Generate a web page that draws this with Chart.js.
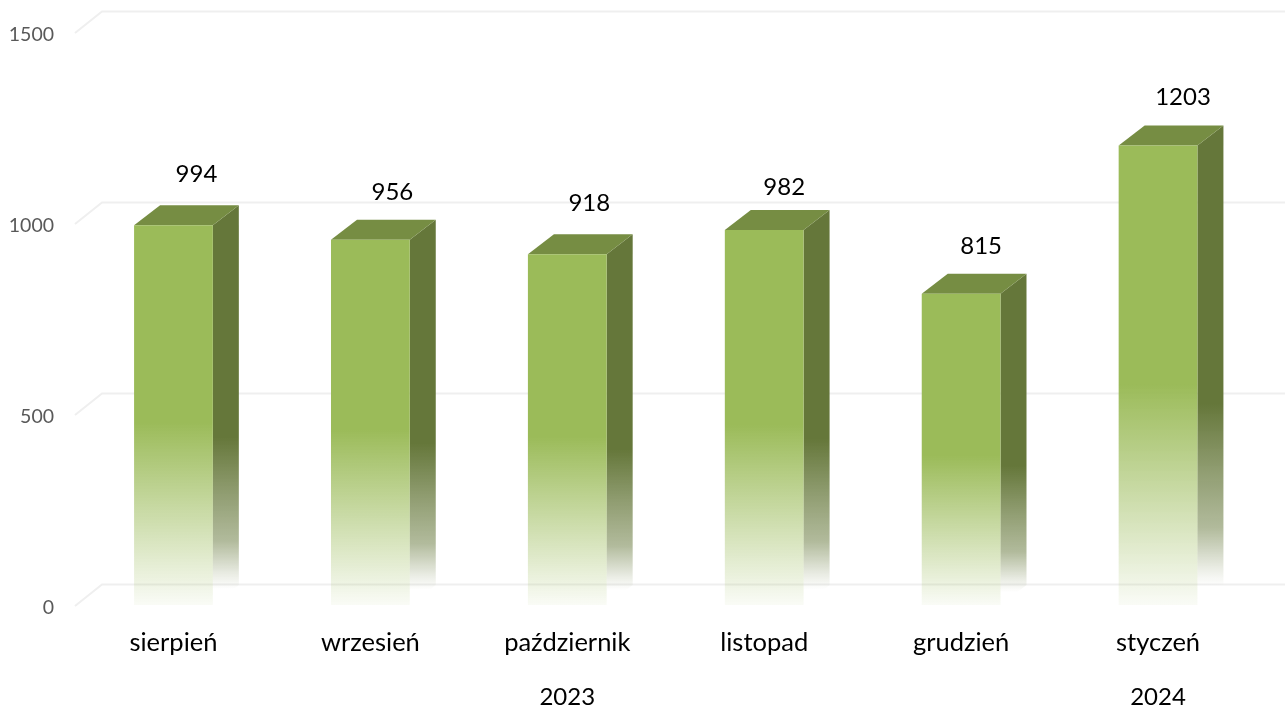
<!DOCTYPE html>
<html lang="pl"><head><meta charset="utf-8">
<style>html,body{margin:0;padding:0;background:#fff}#w{width:1285px;height:707px}</style>
<script src="https://cdn.jsdelivr.net/npm/chart.js@4/dist/chart.umd.min.js"></script>
</head><body><div id="w"><canvas id="c"></canvas></div>
<script>
const categories = ['sierpień','wrzesień','październik','listopad','grudzień','styczeń'];
const years = ['','','2023','','','2024'];
const values = [994,956,918,982,815,1203];
const yTicks = [0,500,1000,1500];

const DX = 26, DY = -20, FADE = 0.52;
const FONT = 'Lato, Carlito, sans-serif';
const labelNudge = [[23,-51],[22,-48],[22,-51],[20,-43],[20,-47],[25,-48]];

function fade(ctx, y0, y1, rgb, a1){
  const g = ctx.createLinearGradient(0,y0,0,y1);
  g.addColorStop(0,`rgba(${rgb},1)`);
  g.addColorStop(FADE,`rgba(${rgb},1)`);
  g.addColorStop(1,`rgba(${rgb},${a1})`);
  return g;
}
function sideFade(ctx, y0, y1, rgb){
  const g = ctx.createLinearGradient(0,y0,0,y1);
  [[0,1],[0.58,1],[0.72,0.72],[0.84,0.5],[0.92,0.15],[0.96,0]].forEach(([p,a])=>g.addColorStop(p,`rgba(${rgb},${a})`));
  return g;
}
function barFill(c, rgb, a1, fallback){
  const {chart,dataIndex} = c;
  const y = chart.scales.y;
  if(!y) return fallback;
  const y0=y.getPixelForValue(values[dataIndex]), y1=y.getPixelForValue(0);
  if(!Number.isFinite(y0)||!Number.isFinite(y1)) return fallback;
  return fade(chart.ctx,y0,y1,rgb,a1);
}
const frontFill = c => barFill(c,'155,187,89',0.05,'#9BBB59');

const depthPlugin = {
  id:'depth',
  beforeDraw(chart){
    // nudge the axis' own tick labels so the digits sit where the reference has them
    chart.scales.y.getLabelItems(chart.chartArea).forEach(it=>{
      if(!it._shifted){it.options.translation[1]+=3;it._shifted=true;}
    });
  },
  beforeDatasetsDraw(chart){
    const {ctx,scales:{y},chartArea:a} = chart;
    ctx.save();
    ctx.strokeStyle='#EFEFEF'; ctx.lineWidth=2;
    y.ticks.forEach(t=>{
      const p=y.getPixelForValue(t.value);
      ctx.beginPath();
      ctx.moveTo(a.left,p+1);
      ctx.lineTo(a.left+27,p-20.5);
      ctx.lineTo(chart.width,p-20.5);
      ctx.stroke();
    });
    chart.getDatasetMeta(0).data.forEach(b=>{
      const {x,y:top,base,width}=b.getProps(['x','y','base','width'],true);
      const r=x+width/2,l=x-width/2;
      ctx.fillStyle=sideFade(ctx,top+DY,base,'101,119,58');
      ctx.beginPath();
      ctx.moveTo(r,top);ctx.lineTo(r+DX,top+DY);ctx.lineTo(r+DX,base+DY);ctx.lineTo(r,base);
      ctx.closePath();ctx.fill();
      ctx.fillStyle='#768D43';
      ctx.beginPath();
      ctx.moveTo(l,top);ctx.lineTo(l+DX,top+DY);ctx.lineTo(r+DX,top+DY);ctx.lineTo(r,top);
      ctx.closePath();ctx.fill();
    });
    ctx.restore();
  },
  afterDatasetsDraw(chart){
    const {ctx,scales:{x}}=chart;
    ctx.save();
    ctx.fillStyle='#000';ctx.font=`24px ${FONT}`;ctx.textAlign='center';ctx.textBaseline='middle';
    chart.getDatasetMeta(0).data.forEach((b,i)=>{
      ctx.fillText(String(values[i]),b.x+labelNudge[i][0],b.y+labelNudge[i][1]);
    });
    years.forEach((t,i)=>{ if(t) ctx.fillText(t,x.getPixelForTick(i),697); });
    ctx.restore();
  }
};

new Chart(document.getElementById('c'),{
  type:'bar',
  data:{
    labels:categories,
    datasets:[{data:values,backgroundColor:frontFill,borderWidth:0,barPercentage:0.4,categoryPercentage:1}]
  },
  plugins:[depthPlugin],
  options:{
    responsive:true,maintainAspectRatio:false,animation:false,
    layout:{padding:{top:32,right:28.5,left:0,bottom:0}},
    plugins:{legend:{display:false},tooltip:{enabled:false},title:{display:false}},
    scales:{
      x:{
        grid:{display:false},border:{display:false},
        ticks:{color:'#000',font:{family:FONT,size:25.5},padding:14,maxRotation:0,autoSkip:false},
        afterFit(s){s.height=102;}
      },
      y:{
        min:0,max:1500,
        afterBuildTicks(s){s.ticks=yTicks.map(v=>({value:v}));},
        grid:{display:false},border:{display:false},
        ticks:{color:'#595959',font:{family:FONT,size:19.5},padding:13,callback:v=>String(v)},
        afterFit(s){s.width=75;}
      }
    }
  }
});
</script></body></html>
